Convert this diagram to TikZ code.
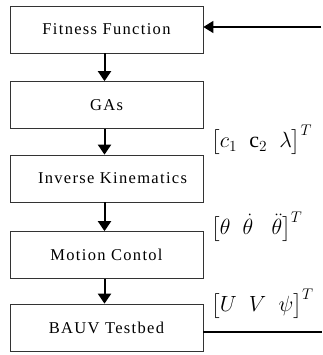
\documentclass[tikz,border=0pt]{standalone}
\usepackage{fix-cm}
\usepackage{exscale}
\usepackage{fontspec}
\setmainfont{Liberation Serif}[LetterSpace=8]
\usetikzlibrary{arrows.meta}
\begin{document}
\begin{tikzpicture}[x=1pt,y=-1pt,
  blk/.style={draw=black!80,line width=0.7pt,minimum width=193pt,minimum height=47pt,inner sep=0pt,
    font=\fontsize{16.5}{19}\selectfont},
  flow/.style={line width=2pt,-{Triangle[length=10pt,width=13pt]}},
  fb/.style={line width=1.3pt},
  lbl/.style={anchor=west,inner sep=0pt,font=\fontsize{22}{26}\selectfont}]
\useasboundingbox (0,0) rectangle (322,355);
\node[blk] (ff) at (106.5,29.5) {Fitness Function};
\node[blk] (ga) at (106.5,105) {GAs};
\node[blk] (ik) at (106.5,178.5) {\hspace*{12pt}Inverse Kinematics};
\node[blk] (mc) at (106.5,255) {Motion Contol};
\node[blk] (bt) at (106.5,327.5) {BAUV Testbed};
\draw[flow] ([xshift=-2pt]ff.south) -- ([xshift=-2pt]ga.north);
\draw[flow] ([xshift=-2pt]ga.south) -- ([xshift=-2pt]ik.north);
\draw[flow] ([xshift=-2pt]ik.south) -- ([xshift=-2pt]mc.north);
\draw[flow] ([xshift=-2pt]mc.south) -- ([xshift=-2pt]bt.north);
\coordinate (in1) at (321,27);
\coordinate (out1) at (322,332);
\draw[fb,-{Triangle[length=10pt,width=12pt]}] (in1) -- (ff.east |- in1);
\draw[fb] (bt.east |- out1) -- (out1);
\node[lbl] (l1) at (211,140) {$\big[c_1\;\;\mathrm{c}_2\;\;\lambda\big]^{T}$};
\node[lbl] (l2) at (211,227) {$\big[\theta\;\;\dot\theta\;\;\;\ddot\theta\big]^{T}$};
\node[lbl] (l3) at (211,304) {$\big[U\;\;V\;\;\psi\big]^{T}$};
\end{tikzpicture}
\end{document}
